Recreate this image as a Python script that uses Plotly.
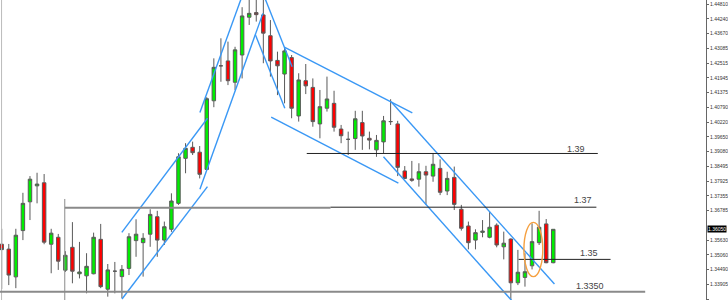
import plotly.graph_objects as go

# ---------------- data ----------------
opens = [1.3547, 1.3528, 1.3420, 1.3600, 1.3712, 1.3774, 1.3786, 1.3547, 1.3574, 1.3446,
         1.3535, 1.3432, 1.3424, 1.3432, 1.3566, 1.3372, 1.3442, 1.3421, 1.3453, 1.3561,
         1.3553, 1.3586, 1.3654, 1.3563, 1.3605, 1.3706, 1.3881, 1.3924, 1.3905, 1.3838,
         1.4105, 1.4241, 1.4260, 1.4177, 1.4283, 1.4430, 1.4448, 1.4439, 1.4358, 1.4262,
         1.4209, 1.4273, 1.4046, 1.4183, 1.4157, 1.4015, 1.4076, 1.4095, 1.3995, 1.3955,
         1.3958, 1.4020, 1.3959, 1.3914, 1.3945, 1.4024, 1.4015, 1.3832, 1.3801, 1.3800,
         1.3829, 1.3812, 1.3842, 1.3754, 1.3807, 1.3683, 1.3618, 1.3563, 1.3593, 1.3574,
         1.3621, 1.3537, 1.3567, 1.3397, 1.3418, 1.3463, 1.3553, 1.3626, 1.3475]
highs = [1.3607, 1.3548, 1.3607, 1.3747, 1.3812, 1.3825, 1.3820, 1.3607, 1.3587, 1.3520,
         1.3633, 1.3556, 1.3512, 1.3592, 1.3626, 1.3470, 1.3478, 1.3466, 1.3590, 1.3644,
         1.3590, 1.3683, 1.3677, 1.3635, 1.3745, 1.3901, 1.3940, 1.3946, 1.3929, 1.4119,
         1.4270, 1.4348, 1.4335, 1.4315, 1.4469, 1.4510, 1.4510, 1.4501, 1.4419, 1.4296,
         1.4315, 1.4283, 1.4212, 1.4248, 1.4192, 1.4147, 1.4199, 1.4144, 1.4011, 1.3985,
         1.4066, 1.4066, 1.3985, 1.3972, 1.4046, 1.4111, 1.4027, 1.3851, 1.3871, 1.3862,
         1.3852, 1.3901, 1.3877, 1.3829, 1.3849, 1.3700, 1.3635, 1.3605, 1.3641, 1.3674,
         1.3628, 1.3596, 1.3570, 1.3525, 1.3512, 1.3628, 1.3677, 1.3645, 1.3606]
lows = [1.3373, 1.3388, 1.3376, 1.3563, 1.3641, 1.3706, 1.3547, 1.3434, 1.3447, 1.3439,
        1.3395, 1.3414, 1.3356, 1.3430, 1.3376, 1.3343, 1.3356, 1.3337, 1.3427, 1.3498,
        1.3421, 1.3537, 1.3498, 1.3544, 1.3595, 1.3700, 1.3823, 1.3894, 1.3803, 1.3836,
        1.4080, 1.4179, 1.4166, 1.4147, 1.4192, 1.4400, 1.4413, 1.4251, 1.4199, 1.4127,
        1.4095, 1.4037, 1.4024, 1.4131, 1.4004, 1.3959, 1.4063, 1.3985, 1.3940, 1.3894,
        1.3914, 1.3914, 1.3916, 1.3887, 1.3901, 1.4011, 1.3812, 1.3800, 1.3790, 1.3771,
        1.3700, 1.3790, 1.3738, 1.3738, 1.3680, 1.3600, 1.3527, 1.3527, 1.3574, 1.3570,
        1.3535, 1.3488, 1.3328, 1.3388, 1.3382, 1.3449, 1.3544, 1.3473, 1.3473]
closes = [1.3526, 1.3427, 1.3582, 1.3706, 1.3800, 1.3781, 1.3555, 1.3590, 1.3481, 1.3504,
          1.3442, 1.3439, 1.3461, 1.3574, 1.3382, 1.3447, 1.3442, 1.3449, 1.3576, 1.3586,
          1.3570, 1.3663, 1.3563, 1.3615, 1.3715, 1.3887, 1.3920, 1.3903, 1.3819, 1.4113,
          1.4235, 1.4241, 1.4183, 1.4303, 1.4435, 1.4445, 1.4440, 1.4368, 1.4260, 1.4241,
          1.4299, 1.4076, 1.4186, 1.4163, 1.4024, 1.4082, 1.4112, 1.4002, 1.3969, 1.3955,
          1.4035, 1.3968, 1.3952, 1.3951, 1.4027, 1.4024, 1.3846, 1.3803, 1.3796, 1.3829,
          1.3816, 1.3858, 1.3749, 1.3803, 1.3702, 1.3609, 1.3553, 1.3592, 1.3598, 1.3613,
          1.3544, 1.3551, 1.3397, 1.3438, 1.3440, 1.3557, 1.3613, 1.3475, 1.3605]
bars = list(range(len(opens)))

tick_values = [1.44810, 1.44240, 1.43670, 1.43085, 1.42515, 1.41945, 1.41375, 1.40790,
               1.40220, 1.39650, 1.39080, 1.38495, 1.37925, 1.37355, 1.36785, 1.35630,
               1.35060, 1.34490, 1.33905, 1.33335]
tick_labels = ["%.5f" % v for v in tick_values]

# blue trend lines (bar index, price)
trend_x0 = [17.01, 16.99, 28.03, 28.03, 37.21, 35.89, 40.04, 38.11, 55.07, 53.99]
trend_y0 = [1.3334, 1.3593, 1.4059, 1.3761, 1.4505, 1.4361, 1.4313, 1.4041, 1.4101, 1.3887]
trend_x1 = [29.10, 29.10, 33.90, 36.94, 41.07, 40.04, 58.07, 56.10, 78.17, 72.44]
trend_y1 = [1.3771, 1.4037, 1.4505, 1.4445, 1.4237, 1.4076, 1.4058, 1.3785, 1.3392, 1.3318]

# horizontal levels
level_labels = ["1.39", "1.37", "1.35", "1.3350"]
level_prices = [1.3900, 1.3691, 1.3488, 1.3362]
level_start = [43.14, 46.50, 73.10, -0.30]
level_end = [84.30, 84.10, 86.10, 91.00]
label_x = [81.2, 82.15, 83.1, 83.14]
label_y = [1.3917, 1.3718, 1.3512, 1.3385]

gray_seg_x = [8.92, 46.50]
gray_seg_y = 1.3689
vline_x = 8.92
vline_y = [1.3723, 1.3320]

ellipse_x = [73.85, 76.52]
ellipse_y = [1.3421, 1.3632]

last_price_text = "1.36050"

# ---------------- figure ----------------
fig = go.Figure()
fig.add_trace(go.Candlestick(
    x=bars, open=opens, high=highs, low=lows, close=closes,
    increasing=dict(fillcolor="#00EE00", line=dict(color="#5a5a5a", width=1)),
    decreasing=dict(fillcolor="#FF0000", line=dict(color="#5a5a5a", width=1)),
    whiskerwidth=0, hoverinfo="skip",
))

shapes = []
blue = "#3a98f5"
for x0, y0, x1, y1 in zip(trend_x0, trend_y0, trend_x1, trend_y1):
    shapes.append(dict(type="line", xref="x", yref="y", x0=x0, y0=y0, x1=x1, y1=y1,
                       line=dict(color=blue, width=1.4)))

# left border line
shapes.append(dict(type="line", xref="x", yref="paper", x0=-0.02, x1=-0.02, y0=0, y1=1,
                   line=dict(color="#bbbbbb", width=1)))

# gray thick segment of 1.37 and vertical gray line
shapes.append(dict(type="line", xref="x", yref="y", x0=gray_seg_x[0], x1=gray_seg_x[1],
                   y0=gray_seg_y, y1=gray_seg_y, line=dict(color="#8a8a8a", width=2)))
shapes.append(dict(type="line", xref="x", yref="y", x0=vline_x, x1=vline_x,
                   y0=vline_y[0], y1=vline_y[1], line=dict(color="#8a8a8a", width=1)))

for i, (p, a, b) in enumerate(zip(level_prices, level_start, level_end)):
    if level_labels[i] == "1.3350":
        ln = dict(color="#8a8a8a", width=2.2)
    else:
        ln = dict(color="#222222", width=1)
    shapes.append(dict(type="line", xref="x", yref="y", x0=a, x1=b, y0=p, y1=p, line=ln))

shapes.append(dict(type="circle", xref="x", yref="y", x0=ellipse_x[0], x1=ellipse_x[1],
                   y0=ellipse_y[0], y1=ellipse_y[1], line=dict(color="#f5a040", width=1.4)))

annotations = []
for t, x, y in zip(level_labels, label_x, label_y):
    annotations.append(dict(x=x, y=y, xref="x", yref="y", text=t, showarrow=False,
                            font=dict(family="Liberation Sans", size=9, color="#444444"),
                            xanchor="center", yanchor="middle"))
annotations.append(dict(x=1, xref="paper", y=closes[-1], yref="y", text=last_price_text,
                        showarrow=False, xanchor="left", yanchor="middle", xshift=1,
                        bgcolor="#000000", borderpad=0,
                        font=dict(family="Liberation Sans", size=5, color="#ffffff")))

fig.update_layout(
    width=728, height=300,
    margin=dict(l=0, r=19, t=0, b=0),
    plot_bgcolor="white", paper_bgcolor="white",
    showlegend=False,
    shapes=shapes, annotations=annotations,
    xaxis=dict(range=[-0.24, 99.6], visible=False, rangeslider=dict(visible=False),
               showgrid=False, zeroline=False),
    yaxis=dict(side="right", range=[1.3330, 1.4497], tickvals=tick_values,
               ticktext=tick_labels, showgrid=False, zeroline=False,
               showline=True, linecolor="#666666", linewidth=1,
               ticks="outside", ticklen=2, tickcolor="#666666",
               tickfont=dict(family="Liberation Sans", size=5, color="#333333")),
)

fig.write_html("out.html")
